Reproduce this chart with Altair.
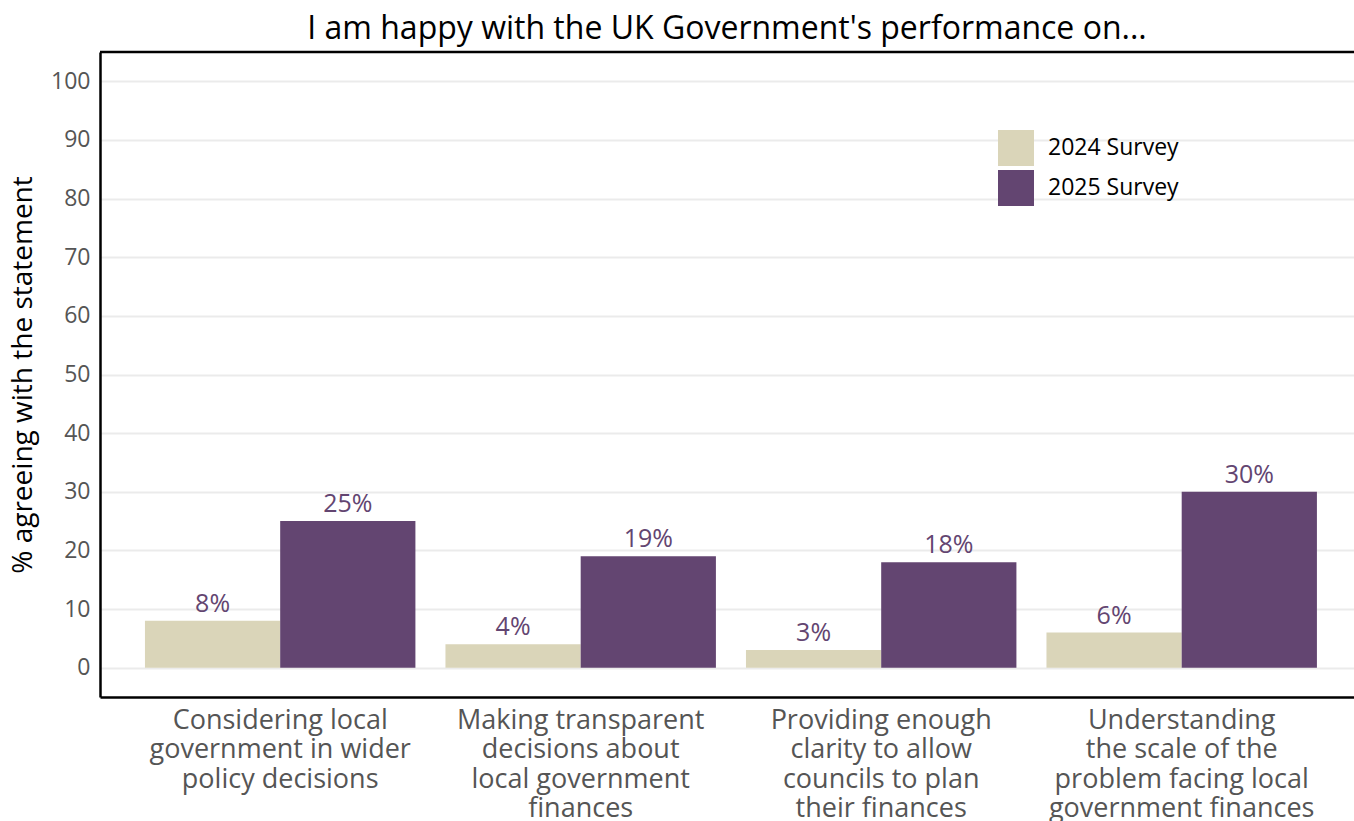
import altair as alt
import pandas as pd

categories = [
    "Considering local|government in wider|policy decisions",
    "Making transparent|decisions about|local government|finances",
    "Providing enough|clarity to allow|councils to plan|their finances",
    "Understanding|the scale of the|problem facing local|government finances",
]
surveys = ["2024 Survey", "2025 Survey"]
values_2024 = [8, 4, 3, 6]
values_2025 = [25, 19, 18, 30]
colors = ["#DAD5B9", "#634571"]

rows = []
for c, v in zip(categories, values_2024):
    rows.append({"cat": c, "survey": surveys[0], "value": v, "label": f"{v}%"})
for c, v in zip(categories, values_2025):
    rows.append({"cat": c, "survey": surveys[1], "value": v, "label": f"{v}%"})
df = pd.DataFrame(rows)

FONT = "Open Sans"
FRAME = 2.5

x = alt.X(
    "cat:N",
    sort=categories,
    scale=alt.Scale(paddingInner=0.1, paddingOuter=0.1365, align=0.548),
    axis=alt.Axis(
        title=None,
        labelExpr="split(datum.label, '|')",
        labelAngle=0,
        labelFontSize=27,
        labelLineHeight=29.5,
        labelColor="#555555",
        labelFont=FONT,
        labelPadding=10,
        ticks=False,
        domain=True,
        domainColor="#000000",
        domainWidth=FRAME,
        grid=False,
        labelLimit=400,
    ),
)
xo = alt.XOffset("survey:N", sort=surveys, scale=alt.Scale(paddingInner=0, paddingOuter=0))
y = alt.Y(
    "value:Q",
    scale=alt.Scale(domain=[-5, 105], nice=False, zero=False),
    axis=alt.Axis(
        title="% agreeing with the statement",
        titleFontSize=28,
        titleFontWeight="normal",
        titleFont=FONT,
        titleColor="#000000",
        titlePadding=13,
        values=list(range(0, 101, 10)),
        labelFontSize=23,
        labelColor="#555555",
        labelFont=FONT,
        labelPadding=10,
        ticks=False,
        domain=True,
        domainColor="#000000",
        domainWidth=FRAME,
        gridColor="#EBEBEB",
        gridWidth=2,
    ),
)

bars = alt.Chart(df).mark_bar().encode(
    x=x,
    xOffset=xo,
    y=y,
    y2=alt.datum(0),
    color=alt.Color(
        "survey:N",
        sort=surveys,
        scale=alt.Scale(domain=surveys, range=colors),
        legend=alt.Legend(
            title=None,
            orient="none",
            legendX=898,
            legendY=78,
            symbolType="square",
            symbolSize=1296,
            symbolStrokeWidth=0,
            labelFontSize=23,
            labelFont=FONT,
            labelColor="#000000",
            rowPadding=4,
            labelOffset=14,
        ),
    ),
)

text = alt.Chart(df).mark_text(
    baseline="bottom", dy=-4, fontSize=25, font=FONT, color="#634571"
).encode(x=x, xOffset=xo, y=y, text="label:N")

top_line = alt.Chart(pd.DataFrame({"top": [105]})).mark_rule(
    color="#000000", strokeWidth=FRAME
).encode(y=alt.Y("top:Q"))

chart = (
    alt.layer(bars, text, top_line)
    .properties(
        width=1254,
        height=645,
        padding={"left": 100, "top": 52, "right": 0, "bottom": 124},
        autosize=alt.AutoSizeParams(type="none"),
        title=alt.TitleParams(
            "I am happy with the UK Government's performance on...",
            fontSize=32,
            font=FONT,
            fontWeight="normal",
            color="#000000",
            anchor="middle",
            frame="group",
            offset=5,
        ),
    )
    .configure_view(stroke=None)
)

chart.save("out.html", embed_options={"renderer": "svg", "actions": False})
